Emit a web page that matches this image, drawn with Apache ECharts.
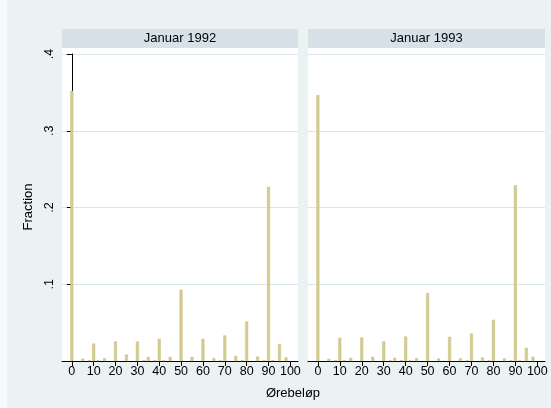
<!DOCTYPE html>
<html>
<head>
<meta charset="utf-8">
<script src="https://cdn.jsdelivr.net/npm/echarts@6/dist/echarts.min.js"></script>
<style>
html,body{margin:0;padding:0;background:#fff;}
#chart{width:551px;height:408px;}
</style>
</head>
<body>
<div id="chart"></div>
<script>
// Panel titles
const panelTitles = ['Januar 1992', 'Januar 1993'];
// Øre amounts (bar positions)
const oreValues = [0, 5, 8, 10, 12, 15, 20, 25, 30, 33, 35, 38, 40, 42, 45, 50, 55, 60, 65, 68, 70, 75, 78, 80, 85, 88, 90, 92, 95, 98];
// Fractions, January 1992
const fraction1992 = [0.352, 0.003, 0.001, 0.0228, 0.001, 0.0035, 0.0255, 0.0085, 0.0253, 0.001, 0.0053, 0.001, 0.0288, 0.001, 0.0053, 0.093, 0.0053, 0.0288, 0.0037, 0.001, 0.0333, 0.0067, 0.001, 0.0515, 0.0057, 0.001, 0.227, 0.001, 0.022, 0.0049];
// Fractions, January 1993
const fraction1993 = [0.3465, 0.0028, 0.001, 0.0302, 0.001, 0.0042, 0.0307, 0.0055, 0.0255, 0.001, 0.0042, 0.001, 0.0319, 0.001, 0.0037, 0.0885, 0.0033, 0.0315, 0.0035, 0.001, 0.0358, 0.0045, 0.001, 0.0538, 0.0032, 0.001, 0.229, 0.001, 0.0172, 0.0054];
// Axis ticks
const xTicks = [0, 10, 20, 30, 40, 50, 60, 70, 80, 90, 100];
const yTicks = [0.1, 0.2, 0.3, 0.4];

const chart = echarts.init(document.getElementById('chart'), null, {renderer: 'canvas'});
const FONT = '"Liberation Sans", Arial, sans-serif';
const barColor = '#d5cb8d';
const panels = [
  {left: 62, width: 236},
  {left: 308, width: 237}
];
const gridTop = 54, gridHeight = 307;

function xAxisFor(i) {
  return {
    type: 'value', gridIndex: i, min: -4.5, max: 103.5,
    axisLine: {show: true, onZero: false, lineStyle: {color: '#000', width: 1}},
    axisTick: {show: true, length: 5, customValues: xTicks, lineStyle: {color: '#000'}},
    axisLabel: {show: true, customValues: xTicks, color: '#000', fontFamily: FONT, fontSize: 12.5, margin: 4},
    splitLine: {show: false}
  };
}
function yAxisFor(i) {
  return {
    type: 'value', gridIndex: i, min: 0, max: 0.4, interval: 0.1,
    axisLine: {show: i === 0, lineStyle: {color: '#000', width: 1}},
    axisTick: {show: i === 0, length: 5, lineStyle: {color: '#000'}},
    axisLabel: {
      show: i === 0, rotate: 90, color: '#000', fontFamily: FONT, fontSize: 12.5, margin: 6,
      formatter: v => (v < 0.05 ? '' : v.toFixed(1).replace('0.', '.'))
    },
    splitLine: {show: true, lineStyle: {color: '#d9e6eb', width: 1.2}}
  };
}

const graphics = [
  {type: 'rect', shape: {x: 0, y: 0, width: 7, height: 408}, style: {fill: '#f7fafa'}, silent: true}
];
panels.forEach((p, i) => {
  graphics.push({type: 'rect', shape: {x: p.left, y: 48, width: p.width, height: gridTop - 48}, style: {fill: '#ffffff'}, silent: true});
  graphics.push({type: 'rect', shape: {x: p.left, y: 29, width: p.width, height: 19}, style: {fill: '#d6e2e8'}, silent: true});
  graphics.push({type: 'text', x: p.left + p.width / 2, y: 38.5, style: {text: panelTitles[i], fill: '#000', font: '13px ' + FONT, align: 'center', verticalAlign: 'middle'}, silent: true});
});
graphics.push({type: 'text', x: 293, y: 393, style: {text: 'Ørebeløp', fill: '#000', font: '13px ' + FONT, align: 'center', verticalAlign: 'middle'}, silent: true});
graphics.push({type: 'text', x: 28, y: 207, rotation: Math.PI / 2, style: {text: 'Fraction', fill: '#000', font: '13px ' + FONT, align: 'center', verticalAlign: 'middle'}, silent: true});

const option = {
  backgroundColor: '#eaf2f3',
  animation: false,
  grid: panels.map(p => ({left: p.left, top: gridTop, width: p.width, height: gridHeight, show: true, backgroundColor: '#ffffff', borderWidth: 0})),
  xAxis: [xAxisFor(0), xAxisFor(1)],
  yAxis: [yAxisFor(0), yAxisFor(1)],
  series: [
    {type: 'bar', xAxisIndex: 0, yAxisIndex: 0, barWidth: 3, itemStyle: {color: barColor, borderColor: '#c9bf80', borderWidth: 0.5}, data: oreValues.map((x, k) => [x, fraction1992[k]])},
    {type: 'bar', xAxisIndex: 1, yAxisIndex: 1, barWidth: 3, itemStyle: {color: barColor, borderColor: '#c9bf80', borderWidth: 0.5}, data: oreValues.map((x, k) => [x, fraction1993[k]])}
  ],
  graphic: graphics
};
chart.setOption(option);
</script>
</body>
</html>
